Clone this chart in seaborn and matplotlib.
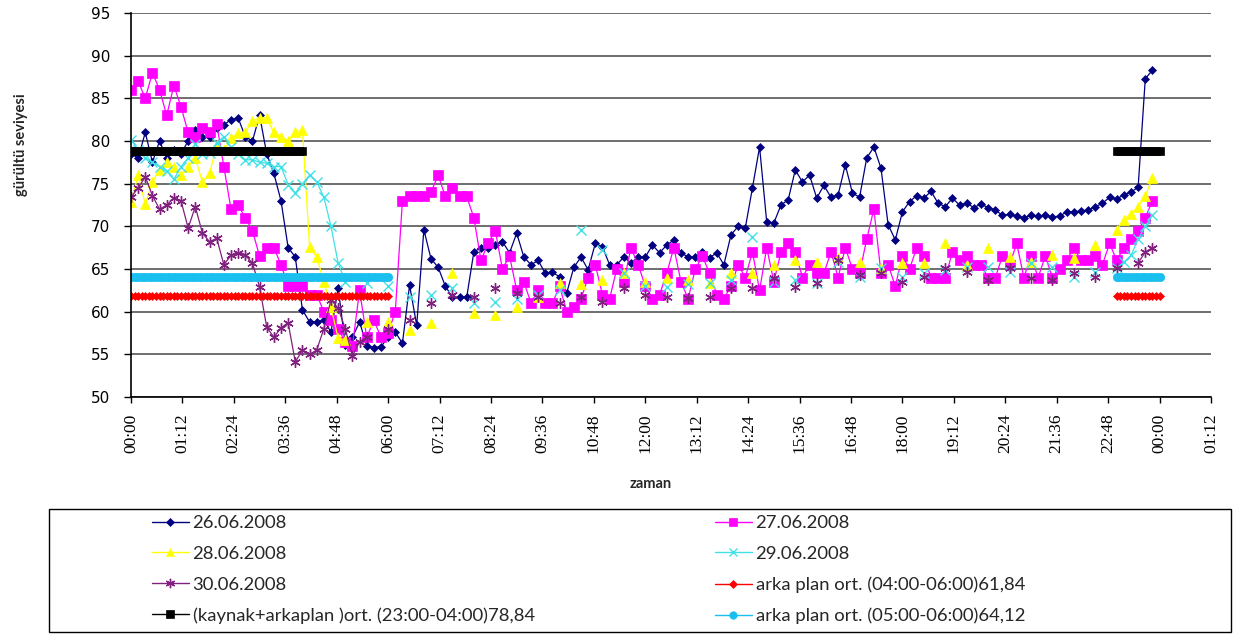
import numpy as np
import pandas as pd
import matplotlib
matplotlib.use("Agg")
import matplotlib.pyplot as plt
from matplotlib.lines import Line2D
from matplotlib.patches import Rectangle
import seaborn as sns

nan = np.nan

# zaman ekseni: dakika, 10 dakikalik adimlar (00:00 - 23:50)
zaman = np.arange(0, 1440, 10)

g26 = [78.5, 78, 81, 77.5, 80, 78, 79, 78.5, 80, 81.3, 80.5, 80.5,
       81.5, 81.9, 82.5, 82.7, 80.5, 80, 83, 78.5, 76.2, 73, 67.5, 66.4,
       60.2, 58.8, 58.8, 59, 57.6, 62.8, 56.1, 57, 58.8, 56, 55.8, 55.9,
       57, 57.6, 56.3, 63.1, 58.4, 69.6, 66.2, 65.2, 63, 61.7, 61.7, 61.7,
       67, 67.5, 67.5, 67.8, 68.2, 66.9, 69.2, 66.4, 65.5, 66, 64.5, 64.6,
       64.1, 62.2, 65.2, 66.4, 64.9, 68, 67.6, 65.5, 65.5, 66.4, 65.7, 66.4,
       66.4, 67.8, 66.9, 67.8, 68.4, 66.9, 66.4, 66.4, 67, 66.3, 66.9, 65.5,
       69, 70, 69.8, 74.5, 79.3, 70.5, 70.4, 72.5, 73.1, 76.6, 75.2, 76,
       73.3, 74.8, 73.4, 73.7, 77.2, 73.9, 73.4, 78, 79.3, 76.8, 70.2, 68.4,
       71.7, 72.9, 73.6, 73.3, 74.1, 72.7, 72.3, 73.3, 72.5, 72.7, 72.2, 72.6,
       72.2, 71.9, 71.3, 71.4, 71.2, 71, 71.3, 71.2, 71.3, 71.1, 71.2, 71.7,
       71.7, 71.8, 71.9, 72.3, 72.7, 73.4, 73.2, 73.7, 74, 74.6, 87.3, 88.3]

g27 = [86, 87, 85, 88, 86, 83, 86.5, 84, 81, 80.5, 81.5, 81,
       82, 77, 72, 72.5, 71, 69.5, 66.5, 67.5, 67.5, 65.5, 63, 63,
       63, 62, 62, 60, 59, 58, 56.5, 56, 62.5, 57, 59, 57,
       57.5, 60, 73, 73.5, 73.5, 73.5, 74, 76, 73.5, 74.5, 73.5, 73.5,
       71, 66, 68, 69.5, 65, 66.5, 62.5, 63.5, 61, 62.5, 61, 61,
       63, 60, 60.5, 61.5, 64, 65.5, 62, 61.5, 65, 63.5, 67.5, 65.5,
       63, 61.5, 62, 64.5, 67.5, 63.5, 61.5, 65, 66.5, 64.5, 62, 61.5,
       63, 65.5, 64, 67, 62.5, 67.5, 63.5, 67, 68, 67, 64, 65.5,
       64.5, 64.5, 67, 64, 67.5, 65, 64.5, 68.5, 72, 64.5, 65.5, 63,
       66.5, 65, 67.5, 66.5, 64, 64, 64, 67, 66, 66.5, 65.5, 65.5,
       64, 64, 66.5, 65.5, 68, 64, 66.5, 64, 66.5, 64, 65, 66,
       67.5, 66, 66, 66.5, 65.5, 68, 66, 67.5, 68.5, 69.5, 71, 73]

g28 = [72.9, 76, 72.6, 75.2, 76.6, 77.5, 77, 76, 77, 78, 75.2, 76.2,
       79.5, 78.9, 80.3, 80.9, 81, 82.4, 82.7, 82.7, 81, 80.5, 80, 81,
       81.3, 67.6, 66.4, 63.5, 60.5, 56.9, 56.7, nan, nan, 58.8, nan, nan,
       58.8, nan, nan, 57.8, nan, nan, 58.7, nan, nan, 64.5, nan, nan,
       59.8, nan, nan, 59.6, nan, nan, 60.5, nan, nan, 61.7, nan, nan,
       63.4, nan, nan, 63.2, nan, nan, 63.7, nan, nan, 64.5, nan, nan,
       63.5, nan, nan, 64, nan, nan, 63.7, nan, nan, 63.4, nan, nan,
       64.5, nan, nan, 64.5, nan, nan, 65.5, nan, nan, 66, nan, nan,
       65.8, nan, nan, 66.3, nan, nan, 65.8, nan, nan, 65.1, nan, nan,
       65.7, nan, nan, 65.7, nan, nan, 68, nan, nan, 65.5, nan, nan,
       67.5, nan, nan, 66.4, nan, nan, 65.8, nan, nan, 66.6, nan, nan,
       66.3, nan, nan, 67.8, nan, nan, 69.6, 70.8, 71.5, 72.3, 73.5, 75.7]

g29 = [80.1, 79, 78, 77.5, 77, 76.5, 75.5, 77, 78, 79.7, 78.5, 78.6,
       79.8, 80.5, 79.3, 78.5, 77.8, 77.8, 77.5, 77.4, 77, 77, 74.9, 73.9,
       75, 76, 75.2, 73.4, 70, 65.7, 63.5, nan, nan, 63.4, nan, nan,
       63, nan, nan, 61.7, nan, nan, 62, nan, nan, 62.8, nan, nan,
       61, nan, nan, 61.1, nan, nan, 61.5, nan, nan, 62, nan, nan,
       62.5, nan, nan, 69.6, nan, nan, 67.2, nan, nan, 64.5, nan, nan,
       63, nan, nan, 62.9, nan, nan, 63.2, nan, nan, 63.4, nan, nan,
       63.7, nan, nan, 68.8, nan, nan, 63.5, nan, nan, 63.7, nan, nan,
       63.4, nan, nan, 65.8, nan, nan, 64.1, nan, nan, 65.1, nan, nan,
       64.1, nan, nan, 64.5, nan, nan, 64.9, nan, nan, 65.2, nan, nan,
       65.2, nan, nan, 64.6, nan, nan, 65.7, nan, nan, 65.2, nan, nan,
       64.1, nan, nan, 64.6, nan, nan, 65.1, 65.8, 66.6, 68.5, 70, 71.3]

g30 = [73.4, 74.5, 75.8, 73.6, 72, 72.5, 73.3, 73, 69.8, 72.3, 69.2, 68.2,
       68.6, 65.5, 66.6, 66.9, 66.6, 65.7, 62.9, 58.2, 57, 58.1, 58.7, 54.1,
       55.5, 55, 55.5, 58, 61.4, 60.4, 58, 54.8, 56.5, 57, nan, nan,
       58, nan, nan, 59, nan, nan, 61, nan, nan, 62, nan, nan,
       61.7, nan, nan, 62.8, nan, nan, 62.2, nan, nan, 61.7, nan, nan,
       61, nan, nan, 61.7, nan, nan, 61.1, nan, nan, 62.8, nan, nan,
       62, nan, nan, 61.7, nan, nan, 61.6, nan, nan, 61.7, nan, nan,
       62.8, nan, nan, 62.8, nan, nan, 64, nan, nan, 62.9, nan, nan,
       63.4, nan, nan, 66, nan, nan, 64.3, nan, nan, 64.5, nan, nan,
       63.5, nan, nan, 64.1, nan, nan, 65.1, nan, nan, 64.6, nan, nan,
       63.7, nan, nan, 65.1, nan, nan, 64, nan, nan, 63.7, nan, nan,
       64.5, nan, nan, 64.1, nan, nan, 65.1, nan, nan, 65.7, 67, 67.5]

# ortalama seviyeleri ve gecerli araliklar (dakika)
ort_arka_4_6 = 61.84
ort_kaynak = 78.84
ort_arka_5_6 = 64.12
aralik_arka = [(0, 360), (1380, 1440)]
aralik_kaynak = [(0, 240), (1380, 1440)]

etiketler = ['26.06.2008', '27.06.2008', '28.06.2008', '29.06.2008', '30.06.2008',
             'arka plan ort. (04:00-06:00)61,84',
             '(kaynak+arkaplan )ort. (23:00-04:00)78,84',
             'arka plan ort. (05:00-06:00)64,12']

x_etiket = ['00:00', '01:12', '02:24', '03:36', '04:48', '06:00', '07:12', '08:24',
            '09:36', '10:48', '12:00', '13:12', '14:24', '15:36', '16:48', '18:00',
            '19:12', '20:24', '21:36', '22:48', '00:00', '01:12']

sns.set_style("white")
plt.rcParams['font.family'] = ['DejaVu Sans']

asterisk = (6, 2, 0)
stiller = [
    dict(color='#000080', marker='D', ms=4.3, lw=0.9, mew=0.5),
    dict(color='#FF00FF', marker='s', ms=6.8, lw=0.9, mew=0.5),
    dict(color='#FFFF00', marker='^', ms=6.8, lw=0.9, mew=0.5),
    dict(color='#3FE0E6', marker='x', ms=6.5, lw=0.9, mew=1.0),
    dict(color='#80207F', marker=asterisk, ms=7.5, lw=0.9, mew=1.0),
]
band_stil = [
    dict(color='#FF0000', marker='D', ms=4.0, lw=1.0, mew=0.5),
    dict(color='#000000', marker='s', ms=6.0, lw=1.0, mew=0.5),
    dict(color='#19BFEF', marker='o', ms=6.0, lw=1.0, mew=0.5),
]


def ciz(ax, t, v, st):
    df = pd.DataFrame({'zaman': t, 'seviye': v})
    df['parca'] = df['seviye'].isna().cumsum()
    df = df.dropna()
    sns.lineplot(data=df, x='zaman', y='seviye', units='parca', estimator=None,
                 ax=ax, legend=False, color=st['color'], marker=st['marker'],
                 markersize=st['ms'], markeredgecolor=st['color'],
                 markerfacecolor=st['color'], markeredgewidth=st['mew'],
                 linewidth=st['lw'])


def band(ax, seviye, araliklar, st):
    parcalar = []
    for k, (a, b) in enumerate(araliklar):
        t = np.arange(a, b + 1, 5)
        parcalar.append(pd.DataFrame({'zaman': t, 'seviye': seviye, 'parca': k}))
    df = pd.concat(parcalar)
    sns.lineplot(data=df, x='zaman', y='seviye', units='parca', estimator=None,
                 ax=ax, legend=False, color=st['color'], marker=st['marker'],
                 markersize=st['ms'], markeredgecolor=st['color'],
                 markerfacecolor=st['color'], markeredgewidth=st['mew'],
                 linewidth=st['lw'])


W, H = 1237, 634
fig = plt.figure(figsize=(W / 100, H / 100), dpi=100)
ax = fig.add_axes([131 / W, 1 - 397 / H, 1080 / W, 384 / H])

for seri, st in zip([g26, g27, g28, g29, g30], stiller):
    ciz(ax, zaman, seri, st)

band(ax, ort_arka_4_6, aralik_arka, band_stil[0])
band(ax, ort_kaynak, aralik_kaynak, band_stil[1])
band(ax, ort_arka_5_6, aralik_arka, band_stil[2])

ax.set_xlim(0, 1512)
ax.set_ylim(50, 95)
ax.set_xticks(np.arange(0, 1513, 72))
ax.set_xticklabels(x_etiket, rotation=90, family='Liberation Serif', fontsize=12.5)
ax.set_yticks(np.arange(50, 96, 5))
ax.set_yticklabels([str(v) for v in range(50, 96, 5)], family='DejaVu Sans', fontsize=11)
ax.set_xlabel('')
ax.set_ylabel('')
ax.tick_params(axis='x', bottom=True, direction='out', length=4, width=1, pad=8, colors='black')
ax.tick_params(axis='y', left=True, direction='out', length=5, width=1, pad=10, colors='black')
ax.yaxis.grid(True, color='#555555', linewidth=1.2)
ax.xaxis.grid(False)
ax.set_axisbelow(True)
for s in ['top', 'right']:
    ax.spines[s].set_visible(False)
for s in ['left', 'bottom']:
    ax.spines[s].set_color('black')
    ax.spines[s].set_linewidth(1.2)

fig.text(21 / W, 1 - 145 / H, 'gürültü seviyesi', rotation=90, ha='center', va='center',
         family=['Lato', 'DejaVu Sans'], fontweight='bold', fontsize=10.5)
fig.text(651 / W, 1 - 484 / H, 'zaman', ha='center', va='center',
         family=['Lato', 'DejaVu Sans'], fontweight='bold', fontsize=10.5)

# lejant: iki sutun, satir sirasi referanstaki gibi
tum_stil = stiller + band_stil
tutamak = [Line2D([0], [0], color=st['color'], marker=st['marker'], markersize=st['ms'] * 0.9,
                  markeredgecolor=st['color'], markerfacecolor=st['color'],
                  markeredgewidth=st['mew'], linewidth=1.0) for st in tum_stil]
sira1 = [0, 2, 4, 6]
sira2 = [1, 3, 5, 7]
for sira, x0 in [(sira1, 152), (sira2, 715)]:
    fig.legend([tutamak[i] for i in sira], [etiketler[i] for i in sira],
               loc='upper left', bbox_to_anchor=(x0 / W, 1 - 515 / H),
               frameon=False, borderpad=0, borderaxespad=0, handlelength=2.0,
               handletextpad=0.2, labelspacing=0.8,
               prop={'family': ['Lato', 'DejaVu Sans'], 'size': 13.3})

fig.patches.append(Rectangle((49 / W, 1 - 632 / H), (1231 - 49) / W, 123 / H,
                             transform=fig.transFigure, fill=False,
                             edgecolor='black', linewidth=1.0))

fig.savefig('out.png', dpi=100)
